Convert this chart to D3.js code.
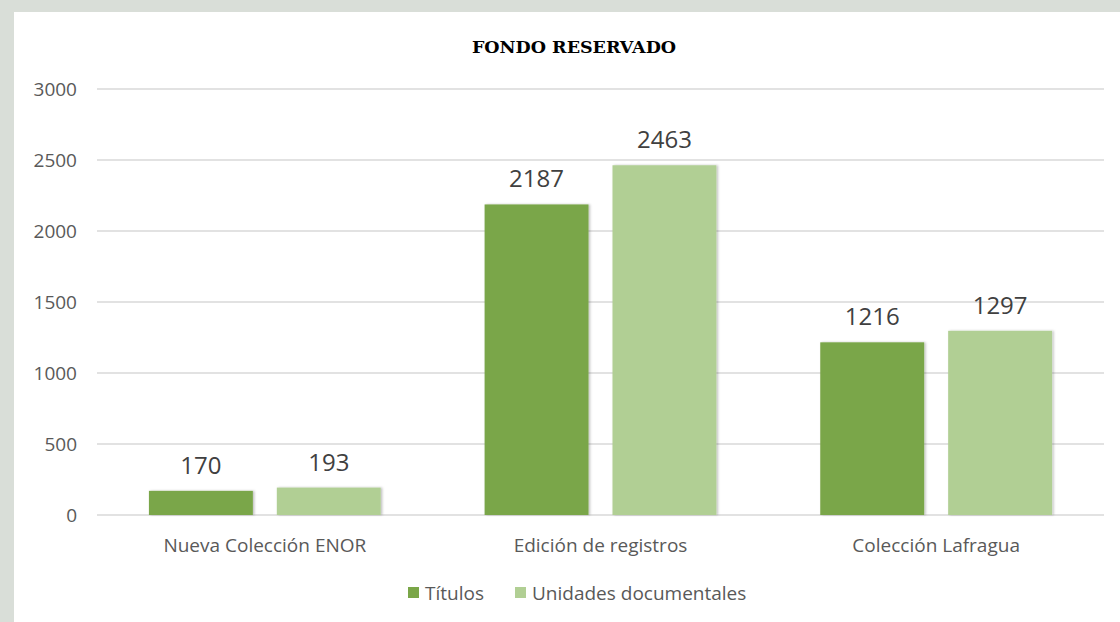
<!DOCTYPE html>
<html>
<head>
<meta charset="utf-8">
<script src="https://cdn.jsdelivr.net/npm/d3@7"></script>
<style>
  html, body { margin: 0; padding: 0; background: #d9ded8; }
  #chart { position: absolute; left: 14px; top: 12px; width: 1106px; height: 610px; background: #fff; }
</style>
</head>
<body>
<div id="chart"></div>
<script>
// data
const categories = ["Nueva Colección ENOR", "Edición de registros", "Colección Lafragua"];
const seriesNames = ["Títulos", "Unidades documentales"];
const titulos = [170, 2187, 1216];
const unidades = [193, 2463, 1297];
const yTicks = [0, 500, 1000, 1500, 2000, 2500, 3000];

const colors = ["#7aa648", "#b1cf94"];
const width = 1106, height = 610;
const font = "'Open Sans', sans-serif";

const svg = d3.select("#chart").append("svg")
    .attr("width", width)
    .attr("height", height);

// plot area in chart coords (page x - 14, page y - 12)
const x0 = d3.scaleBand()
    .domain(categories)
    .range([83, 1090]);

const x1 = d3.scaleBand()
    .domain(seriesNames)
    .range([0, x0.bandwidth()])
    .paddingInner(0.1875)
    .paddingOuter(0.406);

const y = d3.scaleLinear()
    .domain([0, 3000])
    .range([503, 77]);

// shadow filter for bars
const defs = svg.append("defs");
const f = defs.append("filter").attr("id", "sh").attr("x", "-10%").attr("y", "-10%").attr("width", "130%").attr("height", "130%");
f.append("feDropShadow").attr("dx", 1.5).attr("dy", 0).attr("stdDeviation", 1.2).attr("flood-color", "#000").attr("flood-opacity", 0.25);

// gridlines
svg.append("g")
  .selectAll("line")
  .data(yTicks)
  .join("line")
    .attr("x1", 83).attr("x2", 1090)
    .attr("y1", d => y(d)).attr("y2", d => y(d))
    .attr("stroke", "#d9d9d9")
    .attr("stroke-width", 1.5);

// y tick labels
svg.append("g")
  .selectAll("text")
  .data(yTicks)
  .join("text")
    .attr("x", 63)
    .attr("y", d => y(d))
    .attr("dy", "0.35em")
    .attr("text-anchor", "end")
    .attr("font-family", font)
    .attr("font-size", 19)
    .attr("fill", "#595959")
    .text(d => d);

const rows = categories.map((c, i) => ({
  cat: c,
  vals: [titulos[i], unidades[i]]
}));

const groups = svg.append("g")
  .selectAll("g")
  .data(rows)
  .join("g")
    .attr("transform", d => `translate(${x0(d.cat)},0)`);

groups.selectAll("rect")
  .data(d => d.vals.map((v, j) => ({ s: seriesNames[j], v, j })))
  .join("rect")
    .attr("x", d => x1(d.s))
    .attr("y", d => y(d.v))
    .attr("width", x1.bandwidth())
    .attr("height", d => y(0) - y(d.v))
    .attr("fill", d => colors[d.j])
    .attr("filter", "url(#sh)");

groups.selectAll("text")
  .data(d => d.vals.map((v, j) => ({ s: seriesNames[j], v, j })))
  .join("text")
    .attr("x", d => x1(d.s) + x1.bandwidth() / 2)
    .attr("y", d => y(d.v) - 17)
    .attr("text-anchor", "middle")
    .attr("font-family", font)
    .attr("font-size", 24)
    .attr("fill", "#404040")
    .text(d => d.v);

// category labels
svg.append("g")
  .selectAll("text")
  .data(categories)
  .join("text")
    .attr("x", d => x0(d) + x0.bandwidth() / 2)
    .attr("y", 540)
    .attr("text-anchor", "middle")
    .attr("font-family", font)
    .attr("font-size", 19)
    .attr("fill", "#595959")
    .text(d => d);

// title
svg.append("text")
    .attr("x", 560)
    .attr("y", 41)
    .attr("text-anchor", "middle")
    .attr("font-family", "'DejaVu Serif', 'Liberation Serif', serif")
    .attr("font-weight", "bold")
    .attr("font-size", 17.5)
    .attr("fill", "#000")
    .text("FONDO RESERVADO");

// legend
const legendX = [394, 501];
const legend = svg.append("g")
  .selectAll("g")
  .data(seriesNames)
  .join("g")
    .attr("transform", (d, i) => `translate(${legendX[i]},575)`);

legend.append("rect")
    .attr("width", 11).attr("height", 11)
    .attr("fill", (d, i) => colors[i]);

legend.append("text")
    .attr("x", 17)
    .attr("y", 6)
    .attr("dy", "0.35em")
    .attr("font-family", font)
    .attr("font-size", 19)
    .attr("fill", "#595959")
    .text(d => d);
</script>
</body>
</html>
